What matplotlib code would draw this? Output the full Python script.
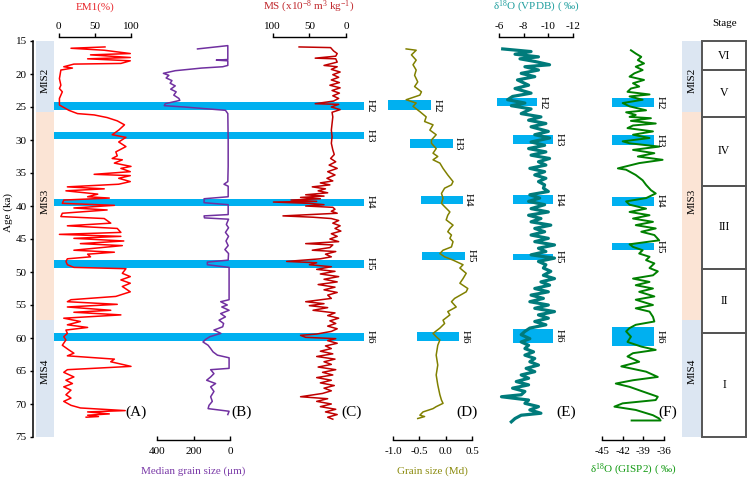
import matplotlib
matplotlib.use("Agg")
import matplotlib.pyplot as plt
from matplotlib.patches import Rectangle

plt.rcParams["font.family"] = ["Liberation Serif", "DejaVu Serif"]
plt.rcParams["mathtext.fontset"] = "custom"
plt.rcParams["mathtext.rm"] = "Liberation Serif"
plt.rcParams["mathtext.it"] = "Liberation Serif:italic"
plt.rcParams["font.size"] = 8

# ---- data ----
AGE_TICKS = [15, 20, 25, 30, 35, 40, 45, 50, 55, 60, 65, 70, 75]

# (A) EM1 (%)
A_AGE = [15.9, 16.1, 16.4, 16.9, 17.1, 17.5, 17.7, 18.0, 18.4, 18.5, 18.9, 19.1, 19.4, 20.7, 21.7, 22.2,
         22.7, 23.7, 24.7, 25.5, 26.0, 26.2, 26.6, 27.1, 27.7, 28.5, 29.2, 29.6, 30.3, 31.0, 31.8, 32.4,
         32.8, 33.0, 33.5, 34.0, 34.3, 34.8, 35.2, 35.4, 35.8, 36.3, 36.7, 37.1, 37.4, 37.7, 38.2, 38.6,
         38.8, 39.1, 39.6, 39.9, 40.3, 40.6, 41.1, 41.6, 41.9, 42.6, 43.0, 43.4, 44.0, 44.3, 44.6, 44.9,
         45.3, 45.7, 46.0, 46.7, 47.0, 47.3, 47.7, 48.0, 48.4, 48.9, 49.3, 49.5, 50.2, 50.7, 51.2, 51.7,
         52.2, 53.0, 53.7, 54.2, 54.5, 54.9, 55.3, 55.8, 56.1, 56.5, 57.0, 57.5, 58.0, 58.4, 58.8, 59.3,
         59.8, 60.3, 61.1, 61.8, 62.3, 62.7, 63.2, 63.6, 64.3, 64.8, 65.2, 65.9, 66.4, 66.9, 67.4, 67.9,
         68.6, 69.1, 69.6, 70.2, 70.6, 71.0, 71.2, 71.5, 71.7, 71.9, 72.0]
A_VAL = [64, 17, 63, 99, 44, 99, 40, 99, 86, 21, 7, 19, 3, 1, 3, 1,
         5, 1, 1, 14, 26, 49, 67, 81, 91, 83, 74, 93, 83, 93, 79, 81,
         74, 88, 77, 100, 86, 99, 49, 99, 83, 99, 83, 12, 63, 10, 54, 40,
         70, 7, 5, 77, 21, 67, 5, 3, 63, 72, 12, 81, 86, 1, 86, 21,
         90, 30, 88, 21, 77, 40, 44, 12, 10, 12, 21, 93, 88, 99, 86, 99,
         88, 99, 79, 17, 12, 81, 12, 72, 21, 86, 7, 30, 12, 40, 10, 12,
         7, 10, 5, 14, 21, 12, 77, 72, 100, 12, 7, 21, 10, 19, 7, 17,
         10, 17, 7, 17, 30, 92, 40, 70, 40, 55, 38]

# (B) median grain size (um)
B_AGE = [16.2, 15.7, 17.8, 17.9, 18.0, 18.7, 18.9, 19.1, 19.5, 19.9, 20.2, 20.6, 21.0, 21.4, 21.8, 22.3,
         22.7, 23.2, 23.7, 24.0, 24.5, 24.8, 25.0, 25.5, 26.0, 30.0, 34.0, 36.3, 36.7, 37.0, 38.6, 38.9,
         39.5, 39.8, 41.3, 41.5, 41.8, 42.0, 42.8, 43.3, 44.0, 44.6, 45.3, 46.0, 46.6, 47.2, 48.2, 48.5,
         48.9, 49.3, 54.2, 54.5, 55.0, 55.3, 55.8, 56.3, 56.8, 57.3, 57.8, 58.3, 58.8, 59.3, 59.8, 60.2,
         60.6, 61.1, 61.6, 62.1, 62.6, 63.0, 64.6, 64.8, 65.4, 65.9, 66.4, 66.9, 67.4, 68.1, 68.9, 69.6,
         70.2, 70.7, 71.1, 71.6]
B_VAL = [178, 12, 12, 75, 12, 12, 40, 155, 300, 365, 335, 350, 318, 328, 300, 325,
         295, 308, 280, 275, 355, 360, 250, 25, 12, 10, 10, 12, 33, 10, 10, 142,
         142, 10, 10, 142, 140, 8, 20, 8, 25, 8, 22, 10, 28, 8, 10, 124,
         124, 5, 5, 51, 15, 45, 5, 51, 25, 60, 35, 40, 88, 50, 110, 133,
         148, 120, 106, 93, 69, 5, 5, 106, 88, 106, 128, 79, 106, 88, 106, 97,
         115, 120, 5, 12]

# (C) magnetic susceptibility
C_AGE = [15.9, 16.0, 16.5, 16.9, 17.3, 17.6, 17.7, 18.2, 18.7, 18.9, 19.3, 19.7, 20.1, 20.5, 20.9, 21.3,
         21.7, 22.1, 22.5, 22.9, 23.3, 23.7, 24.1, 24.5, 24.6, 25.0, 25.4, 25.8, 26.5, 27.5, 28.5, 29.5,
         30.5, 31.5, 32.2, 32.8, 33.3, 33.8, 34.3, 34.8, 35.3, 35.8, 36.2, 36.5, 36.8, 37.1, 37.4, 37.7,
         38.0, 38.3, 38.5, 38.7, 38.9, 39.1, 39.3, 39.4, 39.6, 39.8, 40.0, 40.2, 40.5, 40.8, 41.1, 41.5,
         41.7, 41.9, 42.2, 42.6, 43.0, 43.4, 43.8, 44.2, 44.6, 45.0, 45.4, 45.7, 45.9, 46.3, 46.7, 46.9,
         47.3, 47.7, 48.0, 48.4, 48.6, 48.9, 49.2, 49.6, 49.9, 50.3, 50.7, 51.1, 51.5, 51.9, 52.3, 52.7,
         53.1, 53.5, 54.0, 54.5, 54.8, 55.1, 55.4, 55.8, 56.2, 56.6, 57.0, 57.4, 57.8, 58.2, 58.6, 59.0,
         59.4, 59.6, 59.9, 60.1, 60.4, 60.8, 61.2, 61.6, 62.0, 62.4, 62.8, 63.2, 63.6, 64.0, 64.4, 64.8,
         65.2, 65.6, 66.0, 66.4, 66.8, 67.2, 67.6, 68.0, 68.4, 68.9, 69.2, 69.6, 70.0, 70.4, 70.8, 71.2,
         71.6, 72.0, 72.3]
C_VAL = [64, 21, 17, 12, 14, 42, 14, 12, 30, 12, 20, 8, 18, 10, 20, 9,
         22, 8, 19, 9, 18, 10, 17, 42, 10, 20, 8, 19, 18, 19, 20, 19,
         20, 18, 16, 21, 14, 23, 12, 25, 15, 26, 18, 35, 22, 46, 28, 38,
         25, 55, 30, 62, 35, 75, 40, 99, 50, 30, 55, 18, 15, 20, 12, 86,
         45, 20, 10, 18, 8, 15, 7, 20, 12, 22, 10, 55, 18, 22, 46, 14,
         28, 20, 35, 81, 40, 50, 20, 40, 15, 35, 10, 30, 12, 38, 15, 30,
         12, 25, 20, 55, 30, 50, 25, 45, 15, 25, 10, 22, 14, 25, 12, 20,
         40, 62, 55, 14, 25, 12, 28, 20, 35, 18, 40, 15, 30, 20, 38, 14,
         32, 18, 40, 20, 35, 16, 30, 20, 32, 62, 25, 40, 20, 35, 14, 28,
         12, 25, 18]

# (D) grain size (Md)
D_AGE = [16.2, 16.4, 17.1, 17.9, 18.6, 19.4, 20.2, 21.2, 21.9, 22.7, 23.2, 23.9, 24.4, 24.9, 25.7, 26.5,
         27.2, 27.7, 28.5, 29.2, 30.0, 30.5, 31.3, 32.0, 32.5, 33.0, 33.5, 34.3, 35.3, 36.3, 36.8, 37.3,
         38.1, 38.8, 39.6, 40.1, 40.9, 41.4, 42.1, 42.9, 43.4, 43.9, 44.4, 44.9, 45.4, 46.2, 46.7, 47.2,
         47.7, 48.2, 48.9, 49.4, 50.2, 51.0, 51.7, 52.5, 53.0, 54.0, 54.5, 55.3, 56.0, 56.5, 57.3, 57.8,
         58.5, 59.3, 59.8, 60.3, 61.1, 62.6, 64.1, 65.6, 67.1, 68.6, 69.4, 69.9, 70.4, 70.7, 71.2, 71.7,
         71.9, 72.2]
D_VAL = [-0.75, -0.56, -0.65, -0.56, -0.62, -0.56, -0.59, -0.53, -0.59, -0.46, -0.49, -0.75, -0.56, -0.62, -0.49, -0.37,
         -0.40, -0.24, -0.30, -0.18, -0.27, -0.27, -0.18, -0.24, -0.15, -0.24, -0.11, -0.05, 0.04, 0.14, 0.11, -0.02,
         -0.08, -0.05, -0.08, -0.02, 0.08, 0.04, 0.01, 0.14, 0.08, 0.04, 0.11, 0.08, 0.14, 0.11, -0.05, -0.11,
         -0.02, 0.14, 0.33, 0.27, 0.39, 0.33, 0.27, 0.42, 0.39, 0.17, 0.11, 0.20, 0.04, 0.08, -0.05, -0.02,
         -0.11, -0.24, -0.18, -0.11, -0.15, -0.18, -0.15, -0.18, -0.15, -0.11, -0.08, -0.05, -0.18, -0.24, -0.43, -0.49,
         -0.40, -0.53]

# (E) speleothem d18O (VPDB)
E_AGE = [16.2, 16.6, 17.0, 17.4, 17.7, 18.1, 18.6, 18.9, 19.4, 19.9, 20.4, 20.9, 21.7, 22.2, 22.9, 23.4,
         23.9, 24.4, 24.8, 25.3, 26.0, 26.5, 27.0, 27.5, 28.0, 28.7, 29.2, 29.7, 30.3, 30.8, 31.3, 31.8,
         32.3, 32.8, 33.3, 33.8, 34.3, 34.8, 35.3, 35.8, 36.3, 36.8, 37.3, 37.8, 38.3, 38.8, 39.3, 39.8,
         40.4, 40.9, 41.4, 41.9, 42.4, 42.9, 43.4, 43.9, 44.4, 44.9, 45.4, 45.9, 46.4, 46.9, 47.4, 47.9,
         48.4, 48.9, 49.4, 49.9, 50.5, 51.0, 51.5, 52.0, 52.5, 53.0, 53.5, 54.0, 54.5, 55.0, 55.5, 56.0,
         56.5, 57.0, 57.5, 58.0, 58.5, 59.0, 59.5, 60.1, 60.6, 61.1, 61.6, 62.1, 62.6, 63.1, 63.6, 64.1,
         64.6, 65.1, 65.6, 66.1, 66.6, 67.1, 67.6, 68.1, 68.6, 68.9, 69.4, 69.9, 70.4, 70.9, 71.4, 71.7,
         72.2, 72.7]
E_VAL = [-6.3, -8.6, -7.3, -9.2, -7.7, -8.9, -10.1, -8.1, -9.2, -7.8, -8.9, -7.5, -8.4, -7.3, -8.6, -7.1,
         -6.7, -8.1, -7.0, -8.6, -7.8, -9.4, -8.4, -9.8, -8.6, -10.0, -8.9, -10.1, -8.6, -9.7, -8.4, -9.8,
         -8.6, -10.1, -9.2, -9.8, -8.5, -9.7, -8.9, -9.8, -9.2, -9.7, -9.6, -10.0, -8.5, -9.3, -8.4, -9.7,
         -8.6, -10.0, -8.4, -9.4, -8.6, -10.2, -8.9, -9.7, -8.6, -10.0, -8.9, -10.5, -9.2, -9.8, -8.6, -10.5,
         -9.2, -9.8, -9.6, -10.2, -9.6, -10.5, -9.4, -10.1, -8.9, -10.0, -8.6, -9.6, -8.5, -10.0, -8.9, -10.5,
         -9.2, -10.0, -8.9, -9.8, -8.5, -8.1, -7.8, -8.5, -7.8, -8.4, -8.1, -8.8, -8.1, -8.9, -8.5, -9.2,
         -8.2, -8.9, -7.8, -8.4, -7.4, -8.4, -7.1, -8.1, -7.8, -6.2, -8.4, -8.1, -9.2, -8.5, -9.4, -7.8,
         -7.3, -7.0]

# (F) GISP2 d18O
F_AGE = [16.4, 16.9, 17.4, 17.9, 18.4, 18.9, 19.4, 19.9, 20.4, 20.9, 21.4, 21.9, 22.2, 22.7, 23.1, 23.4,
         23.9, 24.4, 24.9, 25.5, 25.8, 26.2, 26.5, 26.7, 27.1, 27.5, 27.8, 28.2, 28.7, 29.2, 29.7, 30.2,
         30.5, 31.0, 31.5, 32.0, 32.5, 33.0, 33.5, 34.3, 34.5, 35.3, 36.1, 36.8, 37.6, 38.1, 38.8, 39.3,
         39.8, 40.4, 40.9, 41.4, 41.9, 42.4, 42.9, 43.4, 43.9, 44.4, 45.2, 45.8, 46.2, 46.7, 47.2, 47.7,
         48.2, 48.7, 49.4, 49.9, 50.5, 51.0, 51.5, 52.0, 52.5, 53.0, 53.7, 54.2, 55.0, 55.5, 56.0, 56.8,
         57.5, 58.0, 58.5, 59.0, 59.8, 60.6, 61.3, 61.8, 62.3, 62.8, 63.6, 64.3, 65.1, 65.9, 66.4, 66.9,
         67.4, 68.1, 68.9, 69.4, 69.9, 70.4, 70.9, 71.7, 72.2, 72.5, 72.5]
F_VAL = [-40.8, -40.1, -39.3, -39.8, -38.9, -40.1, -39.1, -40.3, -41.0, -38.9, -40.5, -39.6, -40.8, -41.3, -38.1, -41.0,
         -39.1, -42.0, -41.0, -38.6, -41.5, -40.1, -41.0, -37.9, -40.8, -37.2, -40.5, -41.3, -37.6, -40.5, -38.1, -42.0,
         -41.0, -36.7, -40.5, -37.4, -39.8, -36.2, -39.6, -42.7, -41.5, -40.1, -39.1, -38.6, -37.9, -37.2, -38.6, -41.5,
         -41.0, -38.6, -41.0, -38.1, -40.5, -37.6, -40.1, -37.2, -39.3, -37.4, -36.7, -41.0, -40.5, -39.1, -39.6, -38.1,
         -38.6, -37.4, -38.1, -36.9, -37.6, -40.5, -38.1, -40.1, -37.6, -39.6, -37.4, -40.1, -37.6, -40.1, -38.1, -37.6,
         -37.4, -40.1, -41.0, -41.5, -40.8, -41.3, -39.3, -37.2, -40.5, -41.3, -39.6, -42.2, -38.6, -36.9, -40.5, -43.0,
         -41.0, -39.1, -36.9, -37.2, -42.0, -43.2, -40.1, -37.6, -36.7, -36.5, -40.7]

# Heinrich events
H_NAMES = ["H2", "H3", "H4", "H5", "H6"]
H_TOP = [24.2, 28.8, 38.9, 48.2, 59.2]
H_BOT = [25.5, 29.8, 39.95, 49.4, 60.5]
D_H_TOP = [24.0, 29.8, 38.5, 46.9, 59.1]
D_H_BOT = [25.5, 31.2, 39.7, 48.2, 60.5]
D_H_LEFT = [-1.10, -0.67, -0.47, -0.45, -0.55]
D_H_RIGHT = [-0.28, 0.13, 0.32, 0.37, 0.25]
E_H_TOP = [23.7, 29.2, 38.4, 47.3, 58.6]
E_H_BOT = [24.9, 30.6, 39.7, 48.2, 60.8]
E_H_LEFT = [-5.8, -7.15, -7.15, -7.15, -7.15]
E_H_RIGHT = [-9.1, -10.4, -10.4, -10.4, -10.4]
F_H_TOP = [23.6, 29.3, 38.6, 45.6, 58.3]
F_H_BOT = [25.0, 30.8, 39.95, 46.6, 61.2]
F_H_LEFT = [-43.5, -43.5, -43.5, -43.5, -43.5]
F_H_RIGHT = [-37.4, -37.4, -37.4, -37.4, -37.4]

# MIS and stages
MIS_EDGES = [15, 25.7, 57.2, 75]
MIS_NAMES = ["MIS2", "MIS3", "MIS4"]
MIS_LABEL_AGE = [21.0, 39.3, 65.0]
STAGE_EDGES = [15, 19.4, 26.5, 36.9, 49.5, 59.2, 75]
STAGE_NAMES = ["VI", "V", "IV", "III", "II", "I"]

# ---- layout ----
W, H = 747, 479
Y_TOP, Y_BOT = 41, 437          # pixel rows of 15 ka and 75 ka
PT = 72 / 100                   # points per pixel
HBLUE = "#00b0f0"
MIS_COLORS = ["#dce6f2", "#fbe4d5", "#dce6f2"]

fig = plt.figure(figsize=(W / 100, H / 100), dpi=100)


def ftext(x, y, s, **kw):
    fig.text(x / W, 1 - y / H, s, **kw)


# background axes: x in pixels, y in age
bg = fig.add_axes([0, (H - Y_BOT) / H, 1, (Y_BOT - Y_TOP) / H])
bg.set_xlim(0, W)
bg.set_ylim(AGE_TICKS[-1], AGE_TICKS[0])
bg.patch.set_visible(False)
for s in ["top", "right", "bottom"]:
    bg.spines[s].set_visible(False)
bg.spines["left"].set_position(("data", 33))
bg.spines["left"].set_linewidth(1.1)
bg.set_xticks([])
bg.set_yticks(AGE_TICKS)
bg.tick_params(axis="y", direction="out", length=3.3 * PT, width=1.0, pad=3 * PT, labelsize=8)
ftext(8, 212, "Age (ka)", rotation=90, ha="center", va="center", fontsize=8)

for lo, hi, c, name, la in zip(MIS_EDGES[:-1], MIS_EDGES[1:], MIS_COLORS, MIS_NAMES, MIS_LABEL_AGE):
    for x0, x1 in [(36, 54), (682, 702)]:
        bg.axhspan(lo, hi, xmin=x0 / W, xmax=x1 / W, color=c, lw=0, zorder=0)
        bg.text((x0 + x1) / 2, la, name, rotation=90, ha="center", va="center", fontsize=8)

for lo, hi, name in zip(STAGE_EDGES[:-1], STAGE_EDGES[1:], STAGE_NAMES):
    bg.add_patch(Rectangle((702, lo), 44.3, hi - lo, fill=False, edgecolor="#555555",
                           lw=1.4, clip_on=False, zorder=3))
    bg.text(724, (lo + hi) / 2, name, ha="center", va="center", fontsize=8.5)
ftext(725, 24, "Stage", ha="center", va="center", fontsize=8)

for t, b, name in zip(H_TOP, H_BOT, H_NAMES):
    bg.axhspan(t, b, xmin=54 / W, xmax=364 / W, color=HBLUE, lw=0, zorder=1)
    bg.text(366, (t + b) / 2, name, rotation=-90, ha="left", va="center", fontsize=8)


def add_panel(px0, px1, v_a, px_a, v_b, px_b):
    k = (v_b - v_a) / (px_b - px_a)
    ax = fig.add_axes([px0 / W, (H - Y_BOT) / H, (px1 - px0) / W, (Y_BOT - Y_TOP) / H])
    ax.set_xlim(v_a + (px0 - px_a) * k, v_a + (px1 - px_a) * k)
    ax.set_ylim(AGE_TICKS[-1], AGE_TICKS[0])
    ax.patch.set_visible(False)
    for s in ax.spines.values():
        s.set_visible(False)
    ax.set_yticks([])
    return ax


def scale_axis(ax, ticks, labels, where):
    sp = ax.spines[where]
    sp.set_visible(True)
    sp.set_bounds(ticks[0], ticks[-1])
    sp.set_linewidth(1.0)
    if where == "top":
        sp.set_position(("outward", 4 * PT))
        ax.xaxis.tick_top()
        ax.tick_params(axis="x", direction="out", length=4 * PT, width=1.0, pad=1.5, labelsize=8)
    else:
        sp.set_position(("outward", 3 * PT))
        ax.tick_params(axis="x", direction="in", length=4 * PT, width=1.0, pad=5, labelsize=8)
    ax.set_xticks(ticks)
    ax.set_xticklabels(labels)


def short_bars(ax, tops, bots, lefts, rights):
    for t, b, l, r, name in zip(tops, bots, lefts, rights, H_NAMES):
        ax.barh((t + b) / 2, r - l, left=l, height=b - t, color=HBLUE, lw=0, zorder=1)
        ax.annotate(name, (r, (t + b) / 2), xytext=(1.2, 0), textcoords="offset points",
                    rotation=-90, ha="left", va="center", fontsize=8, annotation_clip=False)


# (A)
axA = add_panel(54, 150, 0, 58.7, 100, 131)
axA.plot(A_VAL, A_AGE, color="#ff0000", lw=1.1, clip_on=False, zorder=2)
scale_axis(axA, [0, 50, 100], ["0", "50", "100"], "top")
ftext(95, 7, "EM1(%)", ha="center", va="center", color="#e8262b", fontsize=8)

# (B)
axB = add_panel(150, 240, 400, 157, 0, 230)
axB.plot(B_VAL, B_AGE, color="#7030a0", lw=1.1, clip_on=False, zorder=2)
scale_axis(axB, [400, 200, 0], ["400", "200", "0"], "bottom")
ftext(193.5, 471, "Median grain size (μm)", ha="center", va="center", color="#7a3aa8", fontsize=8)

# (C)
axC = add_panel(260, 360, 100, 272.7, 0, 346)
axC.plot(C_VAL, C_AGE, color="#c00000", lw=1.1, clip_on=False, zorder=2)
scale_axis(axC, [100, 50, 0], ["100", "50", "0"], "top")
ftext(309, 7, "MS (x10$^{-8}$ m$^{3}$ kg$^{-1}$)", ha="center", va="center", color="#c0282d", fontsize=8)

# (D)
axD = add_panel(383, 480, -1.0, 393, 0.5, 472)
short_bars(axD, D_H_TOP, D_H_BOT, D_H_LEFT, D_H_RIGHT)
axD.plot(D_VAL, D_AGE, color="#808000", lw=1.1, clip_on=False, zorder=2)
scale_axis(axD, [-1.0, -0.5, 0.0, 0.5], ["-1.0", "-0.5", "0.0", "0.5"], "bottom")
ftext(432, 471, "Grain size (Md)", ha="center", va="center", color="#8c8c10", fontsize=8)

# (E)
axE = add_panel(488, 583, -6, 499, -12, 573)
short_bars(axE, E_H_TOP, E_H_BOT, E_H_LEFT, E_H_RIGHT)
axE.plot(E_VAL, E_AGE, color="#007b7b", lw=2.3, clip_on=False, zorder=2)
scale_axis(axE, [-6, -8, -10, -12], ["-6", "-8", "-10", "-12"], "top")
ftext(536, 7, "δ$^{18}$O (VPDB) ( ‰)", ha="center", va="center", color="#1f9e9e", fontsize=8)

# (F)
axF = add_panel(596, 680, -45, 602, -36, 664)
short_bars(axF, F_H_TOP, F_H_BOT, F_H_LEFT, F_H_RIGHT)
axF.plot(F_VAL, F_AGE, color="#008000", lw=1.4, clip_on=False, zorder=2)
scale_axis(axF, [-45, -42, -39, -36], ["-45", "-42", "-39", "-36"], "bottom")
ftext(633, 470, "δ$^{18}$O (GISP2) ( ‰)", ha="center", va="center", color="#139a13", fontsize=8)

# panel letters
for x, s in [(136, "(A)"), (242, "(B)"), (352, "(C)"), (467, "(D)"), (566, "(E)"), (668, "(F)")]:
    bg.text(x, 71.3, s, ha="center", va="center", fontsize=11, zorder=5)

fig.savefig("out.png", dpi=100)
